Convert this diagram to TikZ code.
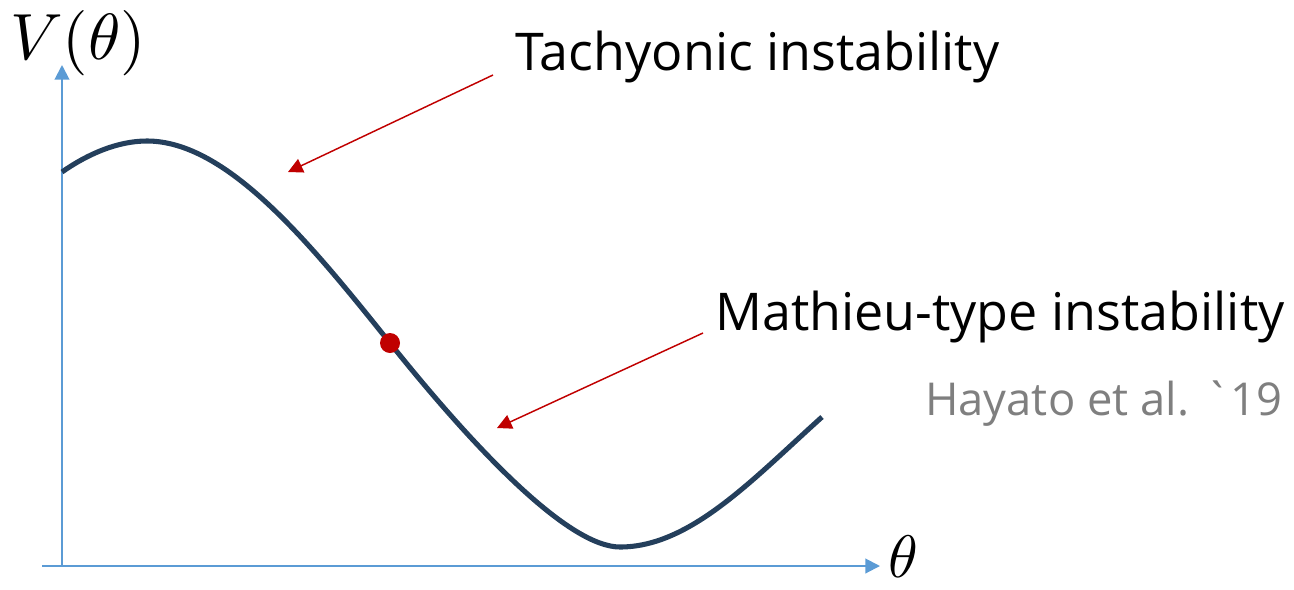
\documentclass[tikz,border=0pt]{standalone}
\usepackage{fontspec}
\usetikzlibrary{arrows.meta}
\newfontfamily\labelfont{Open Sans}
\definecolor{axisblue}{HTML}{5B9BD5}
\definecolor{curvenavy}{HTML}{243F5C}
\definecolor{arrowred}{HTML}{C00000}
\definecolor{citegray}{HTML}{7F7F7F}
\tikzset{
  axisline/.style={draw=axisblue, line width=1.5pt, -{Triangle[length=11pt,width=11pt]}},
  potential/.style={draw=curvenavy, line width=3.8pt, line cap=butt},
  pointer/.style={draw=arrowred, line width=1.1pt, -{Triangle[length=11pt,width=11pt]}},
  label/.style={inner sep=0pt, font=\labelfont\fontsize{39}{41}\selectfont},
  mathlabel/.style={inner sep=0pt},
}
\begin{document}
\begin{tikzpicture}[x=0.75pt,y=-0.75pt]
\useasboundingbox (0,0) rectangle (1294,589);
% axes
\coordinate (origin) at (62,566);
\coordinate (xleft) at (42,566);
\coordinate (xend) at (880,566);
\coordinate (yend) at (62,65);
\draw[axisline] (xleft) -- (xend);
\draw[axisline] (origin) -- (yend);
\node[mathlabel] (vlabel) at (78,43) {\scalebox{4.9}{$V(\theta)$}};
\node[mathlabel] (thlabel) at (903,557) {\scalebox{4.5}{$\theta$}};
% curve
\coordinate (cstart) at (62,172);
\coordinate (peak) at (147,141);
\coordinate (inflect) at (390,343);
\coordinate (trough) at (620,547);
\coordinate (cend) at (822,417);
\draw[potential] (cstart) .. controls (87,154.5) and (117,141) .. (peak)
  .. controls (227,141) and (310,243) .. (inflect)
  .. controls (480,455.5) and (570,547) .. (trough)
  .. controls (690,547) and (752,480) .. (cend);
\node[circle, fill=arrowred, inner sep=0pt, minimum size=15pt] (dot) at (inflect) {};
% labels
\node[label, anchor=base west] (tach) at (515,70) {Tachyonic instability};
\node[label, anchor=base west] (math) at (715,330) {Mathieu-type instability};
\node[label, anchor=base west, text=citegray, font=\labelfont\fontsize{34}{36}\selectfont] (cite) at (925,415) {Hayato et al. \textasciigrave 19};
% pointers
\coordinate (tachstart) at (493,75);
\coordinate (tachtip) at (288,172);
\coordinate (mathstart) at (703,333);
\coordinate (mathtip) at (497,428);
\draw[pointer] (tachstart) -- (tachtip);
\draw[pointer] (mathstart) -- (mathtip);
\end{tikzpicture}
\end{document}
